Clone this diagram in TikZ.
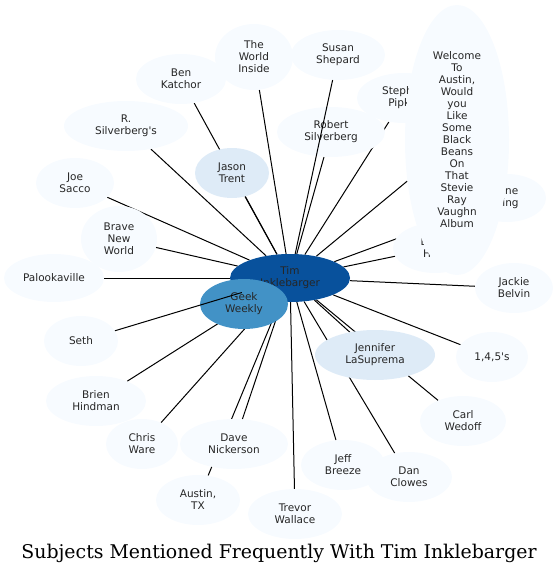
\documentclass[tikz,border=0pt]{standalone}
\usepackage{fontspec}
\usepackage{xcolor}
\usepackage{tikz}
\usetikzlibrary{shapes.geometric}
\newfontfamily\graphfont{DejaVu Sans}
\newfontfamily\titlefont{DejaVu Serif}
\definecolor{blueswhite}{HTML}{F7FBFF}
\definecolor{bluespale}{HTML}{DEEBF7}
\definecolor{bluesmid}{HTML}{4292C6}
\definecolor{bluesdark}{HTML}{08519C}
\pgfdeclarelayer{edges}
\pgfsetlayers{edges,main}
\tikzset{
  subj/.style={ellipse,fill=blueswhite,inner sep=0pt,align=center,
    minimum height=50pt,font=\graphfont\fontsize{10.5}{12}\selectfont,
    text=black!85},
  tie/.style={draw=black,line width=1pt},
}

\begin{document}
\begin{tikzpicture}[x=1pt,y=-1pt]
  \useasboundingbox (0,0) rectangle (558,575);
  % hub and the two mid nodes
  \node[subj,fill=bluesdark,minimum width=120pt,minimum height=48pt] (tim) at (290,278) {Tim\\Inklebarger};
  \node[subj,fill=bluesmid,minimum width=88pt] (geek) at (244,304) {Geek\\Weekly};
  \node[subj,fill=bluespale,minimum width=74pt] (jason) at (232,173) {Jason\\Trent};
  \node[subj,fill=bluespale,minimum width=120pt] (jennifer) at (375,355) {Jennifer\\LaSuprema};
  % outer ring
  \node[subj,minimum width=78pt,minimum height=66pt] (world) at (254,57) {The\\World\\Inside};
  \node[subj,minimum width=90pt] (ben) at (181,79) {Ben\\Katchor};
  \node[subj,minimum width=94pt] (susan) at (338,55) {Susan\\Shepard};
  \node[subj,minimum width=108pt] (robert) at (331,132) {Robert\\Silverberg};
  \node[subj,minimum width=124pt] (rsilver) at (126,126) {R.\\Silverberg's};
  \node[subj,minimum width=78pt] (joe) at (75,183) {Joe\\Sacco};
  \node[subj,minimum width=76pt,minimum height=66pt] (brave) at (119,239) {Brave\\New\\World};
  \node[subj,minimum width=100pt,minimum height=48pt] (palooka) at (54,278) {Palookaville};
  \node[subj,minimum width=74pt] (seth) at (81,341) {Seth};
  \node[subj,minimum width=100pt] (brien) at (96,401) {Brien\\Hindman};
  \node[subj,minimum width=72pt] (chris) at (142,444) {Chris\\Ware};
  \node[subj,minimum width=108pt] (dave) at (234,444) {Dave\\Nickerson};
  \node[subj,minimum width=84pt] (austin) at (198,500) {Austin,\\TX};
  \node[subj,minimum width=94pt] (trevor) at (295,514) {Trevor\\Wallace};
  \node[subj,minimum width=84pt] (jeff) at (343,465) {Jeff\\Breeze};
  \node[subj,minimum width=86pt] (dan) at (409,477) {Dan\\Clowes};
  \node[subj,minimum width=86pt] (carl) at (463,421) {Carl\\Wedoff};
  \node[subj,minimum width=72pt] (onefour) at (492,357) {1,4,5's};
  \node[subj,minimum width=78pt] (jackie) at (514,288) {Jackie\\Belvin};
  \node[subj,minimum width=78pt,minimum height=48pt] (jane) at (507,198) {Jane\\King};
  \node[subj,minimum width=84pt] (brent) at (435,248) {Brent\\Hale};
  \node[subj,minimum width=94pt] (stephen) at (404,98) {Stephen\\Pipkin};
  \node[subj,minimum width=104pt,minimum height=270pt] (welcome) at (457,140)
    {Welcome\\To\\Austin,\\Would\\you\\Like\\Some\\Black\\Beans\\On\\That\\Stevie\\Ray\\Vaughn\\Album};

  \begin{pgfonlayer}{edges}
    \foreach \n in {geek,jason,jennifer,world,ben,robert,rsilver,joe,brave,palooka,
      brien,chris,dave,austin,trevor,jeff,dan,carl,onefour,jackie,jane,brent,
      stephen,welcome}
      \draw[tie] (tim) -- (\n);
  \end{pgfonlayer}
  % these two cross over nodes
  \draw[tie] (tim) -- (susan);
  \draw[tie] (tim) -- (seth);

  \node[font=\titlefont\fontsize{18.9}{22}\selectfont] (title) at (279,553)
    {Subjects Mentioned Frequently With Tim Inklebarger};
\end{tikzpicture}
\end{document}
